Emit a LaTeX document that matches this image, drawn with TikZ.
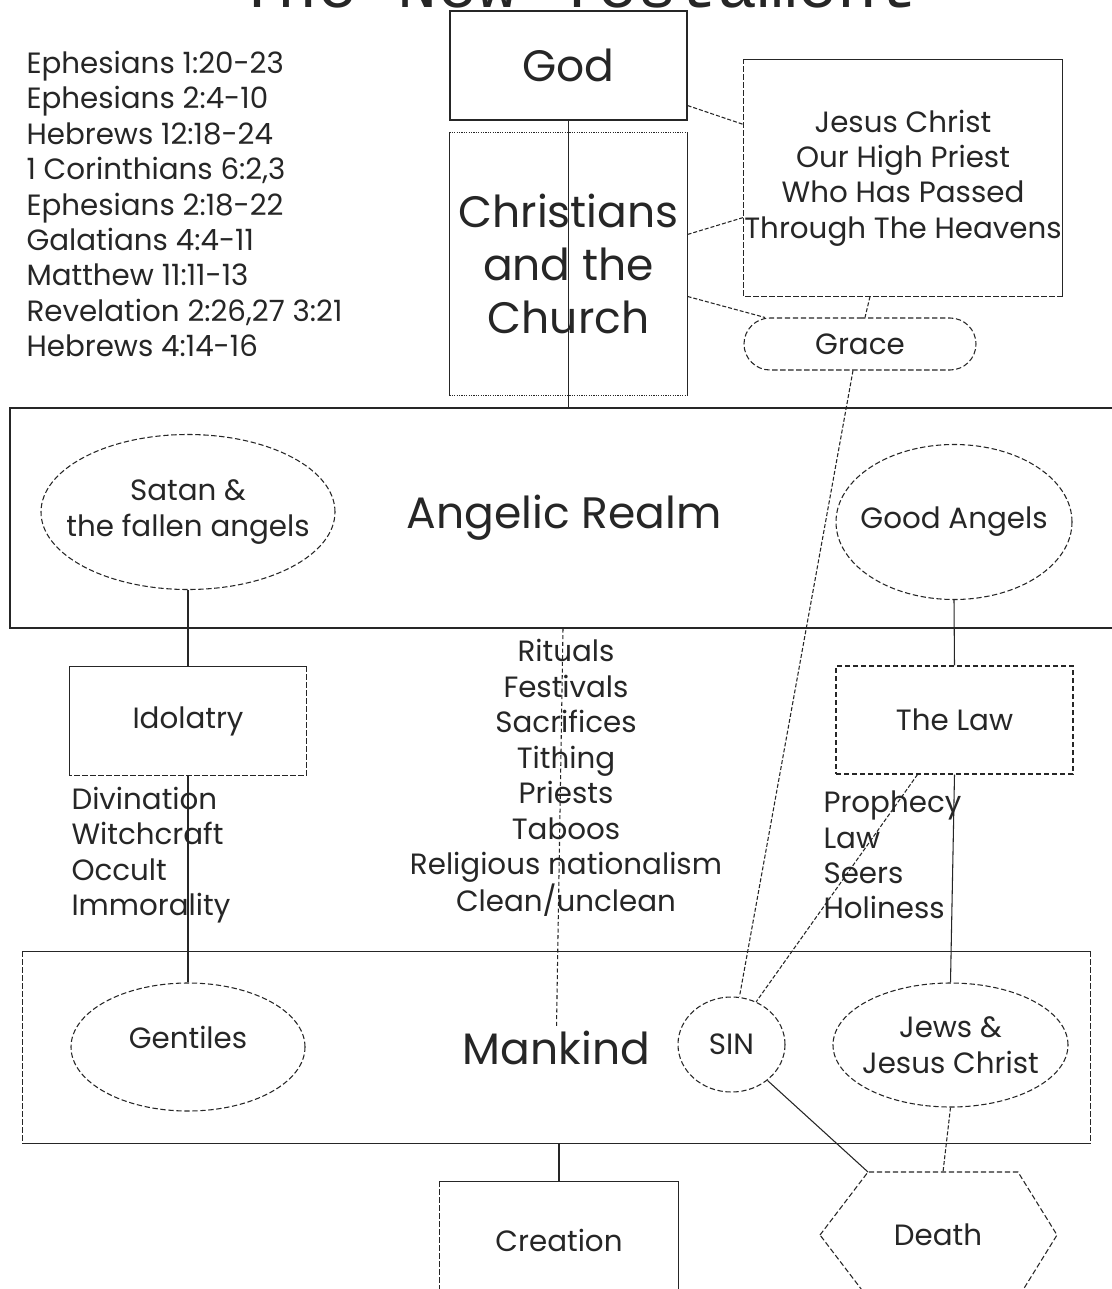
\documentclass[tikz,border=0pt]{standalone}
\usepackage{fontspec}
\setmainfont{Poppins}
\newfontfamily\titlefont{Liberation Mono}
\usetikzlibrary{positioning, calc, shapes.geometric, shapes.misc}

\tikzset{
  txt/.style={font=\fontsize{22}{26.6}\selectfont, align=center, inner sep=0pt},
  bigtxt/.style={font=\fontsize{33}{40}\selectfont, align=center, inner sep=0pt},
  verses/.style={font=\fontsize{22}{26.6}\selectfont, align=left, inner sep=0pt},
  box/.style={draw, rectangle, inner sep=0pt},
  broken/.style={dash pattern=on 4pt off 2pt},
  oval/.style={draw, ellipse, broken, inner sep=0pt},
  pill/.style={draw, rounded rectangle, broken, inner sep=0pt},
  link/.style={dash pattern=on 3pt off 1.5pt},
}

\begin{document}
\begin{tikzpicture}[x=0.75pt, y=-0.75pt, line width=0.8pt, black!85]
    \useasboundingbox (0,0) rectangle (1112,1289);
    \fill[white] (0,0) rectangle (1112,1289);
    \clip (0,0) rectangle (1112,1289);

    %%% NODOS %%%
    % titulo (cortado arriba)
    \node[font=\titlefont\fontsize{50}{50}\selectfont, anchor=base] (title) at (578,7) {The New Testament};

    % versiculos
    \node[verses, anchor=west] (verses) at (26,204) {Ephesians 1:20-23\\Ephesians 2:4-10\\Hebrews 12:18-24\\1 Corinthians 6:2,3\\Ephesians 2:18-22\\Galatians 4:4-11\\Matthew 11:11-13\\Revelation 2:26,27 3:21\\Hebrews 4:14-16};

    % arriba
    \node[box, bigtxt, minimum width=177.75pt, minimum height=81.75pt] (god) at (568.5,65.5) {God};
    \node[bigtxt, minimum width=177.75pt, minimum height=196.5pt] (church) at (568.5,264) {Christians\\and the\\Church};
    \node[minimum width=238.5pt, minimum height=177pt, inner sep=0pt,
          label={[txt]center:{Jesus Christ\\Our High Priest\\Who Has Passed\\Through The Heavens}}] (jesus) at (903,178) {};
    \node[pill, txt, minimum width=174pt, minimum height=39pt] (grace) at (860,344) {Grace};

    % reino angelical
    \node[box, bigtxt, minimum width=831pt, minimum height=165pt] (angelic) at (564,518) {Angelic Realm};
    \node[oval, minimum width=220.5pt, minimum height=116.25pt, label={[txt]center:{Satan \&\\the fallen angels}}] (satan) at (188,512) {};
    \node[oval, minimum width=177pt, minimum height=116.25pt, label={[txt]center:{Good Angels}}] (goodangels) at (954,522) {};

    % en medio
    \node[txt, minimum width=177pt, minimum height=81pt] (idolatry) at (188,721) {Idolatry};
    \node[box, broken, txt, minimum width=177.75pt, minimum height=81pt] (law) at (954.5,720) {The Law};
    \node[verses, anchor=west] (occult) at (71,855) {Divination\\Witchcraft\\Occult\\Immorality};
    \node[txt] (rituals) at (566,778) {Rituals\\Festivals\\Sacrifices\\Tithing\\Priests\\Taboos\\Religious nationalism\\Clean/unclean};
    \node[verses, anchor=west] (prophecy) at (823,855) {Prophecy\\Law\\Seers\\Holiness};

    % humanidad
    \node[bigtxt, minimum width=800.25pt, minimum height=143.25pt] (mankind) at (556.5,1047.5) {Mankind};
    \node[oval, minimum width=175.5pt, minimum height=96pt, label={[txt, yshift=7pt]center:{Gentiles}}] (gentiles) at (188,1047) {};
    \node[oval, minimum width=80.25pt, minimum height=71.25pt, label={[txt]center:{SIN}}] (sin) at (731.5,1044.5) {};
    \node[oval, minimum width=176.25pt, minimum height=93pt, label={[txt]center:{Jews \&\\Jesus Christ}}] (jews) at (950.5,1045) {};

    % abajo
    \node[txt, minimum width=178.5pt, minimum height=87pt] (creation) at (559,1240) {Creation};
    \node[txt] (death) at (938,1235) {Death};
    \coordinate (dw)  at ($(death)+(-118,0)$);
    \coordinate (dnw) at ($(death)+(-70,-63)$);
    \coordinate (dn)  at ($(death)+(5,-63)$);
    \coordinate (dne) at ($(death)+(80,-63)$);
    \coordinate (de)  at ($(death)+(119,0)$);
    \coordinate (dse) at ($(death)+(80,63)$);
    \coordinate (dsw) at ($(death)+(-70,63)$);

    %%% BORDES %%%
    \draw (church.north west) -- (church.south west) (church.north east) -- (church.south east);
    \draw[densely dotted] (church.north west) -- (church.north east) (church.south west) -- (church.south east);
    \draw (jesus.north west) -- (jesus.north east) -- (jesus.south east);
    \draw[broken] (jesus.south east) -- (jesus.south west) -- (jesus.north west);
    \draw (idolatry.south west) -- (idolatry.north west) -- (idolatry.north east);
    \draw[broken] (idolatry.north east) -- (idolatry.south east) -- (idolatry.south west);
    \draw (mankind.north west) -- (mankind.north east) (mankind.south west) -- (mankind.south east);
    \draw[broken] (mankind.north west) -- (mankind.south west) (mankind.north east) -- (mankind.south east);
    \draw (creation.north west) -- (creation.north east) -- (creation.south east) -- (creation.south west);
    \draw[broken] (creation.south west) -- (creation.north west);
    \draw[broken] (dw) -- (dnw) -- (dne) -- (de) -- (dse) -- (dsw) -- cycle;

    %%% CONEXIONES %%%
    % lineas llenas
    \draw (god.south) -- (angelic.north -| god);
    \draw (satan.south) -- (idolatry.north);
    \draw (idolatry.south) -- (gentiles.north);
    \draw (goodangels.south) -- (law.north);
    \draw (law.south) -- (jews.north);
    \draw (mankind.south -| creation) -- (creation.north);
    \draw (sin.-45) -- (dnw);

    % lineas cortadas
    \draw[link] ($(god.south east)+(0,-15)$) -- ($(jesus.north west)+(0,65)$);
    \draw[link] ($(church.north east)+(0,102)$) -- ($(jesus.north west)+(0,158)$);
    \draw[link] ($(church.north east)+(0,164)$) -- ($(grace.north)+(-95,0)$);
    \draw[link] ($(jesus.south)+(-33,0)$) -- ($(grace.north)+(5,0)$);
    \draw[link] ($(grace.south)+(-7,0)$) -- ($(sin.north)+(8,0)$);
    \draw[link] ($(law.south)+(-37,0)$) -- (sin.60);
    \draw[link] (jews.south) -- (dn);
    \draw[densely dashed] ($(angelic.south)+(-1,0)$) -- ($(mankind.center)+(0,-20)$);
\end{tikzpicture}
\end{document}
